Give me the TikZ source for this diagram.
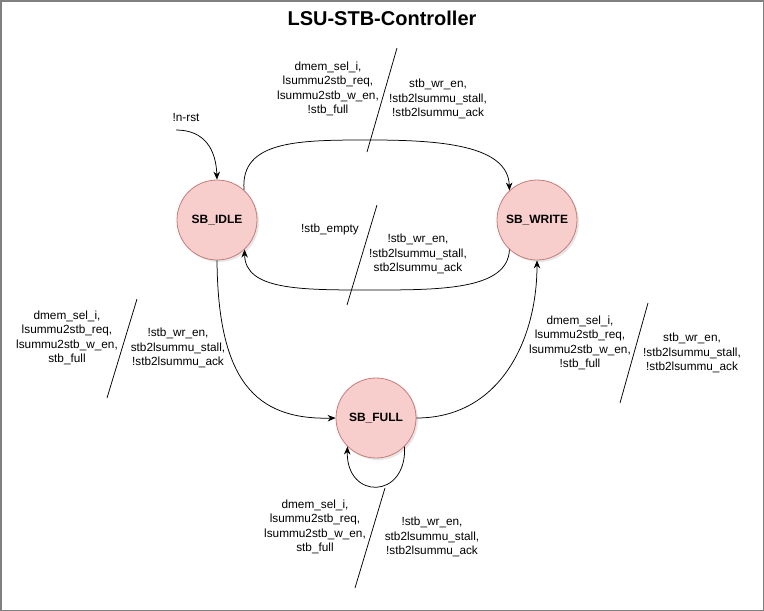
\documentclass[tikz,border=0pt]{standalone}
\usepackage{fontspec}
\setmainfont{Liberation Sans}
\usetikzlibrary{arrows.meta,shadows}
\definecolor{stfill}{HTML}{F8CECC}
\definecolor{ststroke}{HTML}{C77C79}
\definecolor{frame}{HTML}{808080}
\tikzset{
  state/.style={circle, draw=ststroke, fill=stfill, line width=0.8pt, minimum size=80pt, inner sep=0pt,
     font=\fontsize{12}{14}\selectfont\bfseries, drop shadow={opacity=0.2, shadow xshift=2pt, shadow yshift=-2pt}},
  conn/.style={draw=black, line width=0.75pt, -{Stealth[length=8pt,width=6.5pt]}},
  tick/.style={draw=black, line width=0.75pt},
  lbl/.style={align=center, inner sep=0pt, font=\fontsize{11.8}{14.5}\selectfont},
}
\begin{document}
\begin{tikzpicture}[x=1pt,y=-1pt]
\useasboundingbox (0,0) rectangle (764,611);
\draw[frame, line width=1.5pt] (0.75,0.75) rectangle (763.25,610.25);
\node[font=\fontsize{20}{24}\selectfont\bfseries] (title) at (382,18) {LSU-STB-Controller};

\node[state] (idle) at (217,220) {SB\_IDLE};
\node[state] (write) at (537,220) {SB\_WRITE};
\node[state] (full) at (376,418) {SB\_FULL};

% reset
\node[lbl] (rstlbl) at (186,117) {!n-rst};
\coordinate (rst) at (176,130);
\draw[conn] (rst) .. controls (205,130) and (216,150) .. (idle.north);

% IDLE -> WRITE
\draw[conn] (idle.48) .. controls (240,140) and (300,140) .. (370,140)
   .. controls (440,140) and (508,145) .. (write.133);
\coordinate (t1a) at (397,48); \coordinate (t1b) at (367,152);
\draw[tick] (t1a) -- (t1b);
\node[lbl] (l1a) at (328,89) {dmem\_sel\_i,\\lsummu2stb\_req,\\lsummu2stb\_w\_en,\\!stb\_full};
\node[lbl] (l1b) at (438,99) {stb\_wr\_en,\\!stb2lsummu\_stall,\\!stb2lsummu\_ack};

% WRITE -> IDLE
\draw[conn] (write.-133) .. controls (508,290) and (440,290) .. (370,290)
   .. controls (300,290) and (245,290) .. (idle.-47);
\coordinate (t2a) at (377,205); \coordinate (t2b) at (347,305);
\draw[tick] (t2a) -- (t2b);
\node[lbl] (l2a) at (330,229) {!stb\_empty};
\node[lbl] (l2b) at (418,254) {!stb\_wr\_en,\\!stb2lsummu\_stall,\\stb2lsummu\_ack};

% IDLE -> FULL
\draw[conn] (idle.south) .. controls (218,380) and (255,420) .. (full.west);
\coordinate (t3a) at (137,299); \coordinate (t3b) at (107,398);
\draw[tick] (t3a) -- (t3b);
\node[lbl] (l3a) at (67,338) {dmem\_sel\_i,\\lsummu2stb\_req,\\lsummu2stb\_w\_en,\\stb\_full};
\node[lbl] (l3b) at (178,348) {!stb\_wr\_en,\\stb2lsummu\_stall,\\!stb2lsummu\_ack};

% FULL -> WRITE
\draw[conn] (full.east) .. controls (500,418) and (537,340) .. (write.south);
\coordinate (t4a) at (648,303); \coordinate (t4b) at (620,403);
\draw[tick] (t4a) -- (t4b);
\node[lbl] (l4a) at (580,343) {dmem\_sel\_i,\\lsummu2stb\_req,\\lsummu2stb\_w\_en,\\!stb\_full};
\node[lbl] (l4b) at (692,353) {stb\_wr\_en,\\!stb2lsummu\_stall,\\!stb2lsummu\_ack};

% FULL self loop
\draw[conn] (full.-45) .. controls (407,500) and (346,500) .. (full.225);
\coordinate (t5a) at (385,488); \coordinate (t5b) at (355,588);
\draw[tick] (t5a) -- (t5b);
\node[lbl] (l5a) at (315,527) {dmem\_sel\_i,\\lsummu2stb\_req,\\lsummu2stb\_w\_en,\\stb\_full};
\node[lbl] (l5b) at (432,537) {!stb\_wr\_en,\\stb2lsummu\_stall,\\!stb2lsummu\_ack};
\end{tikzpicture}
\end{document}
